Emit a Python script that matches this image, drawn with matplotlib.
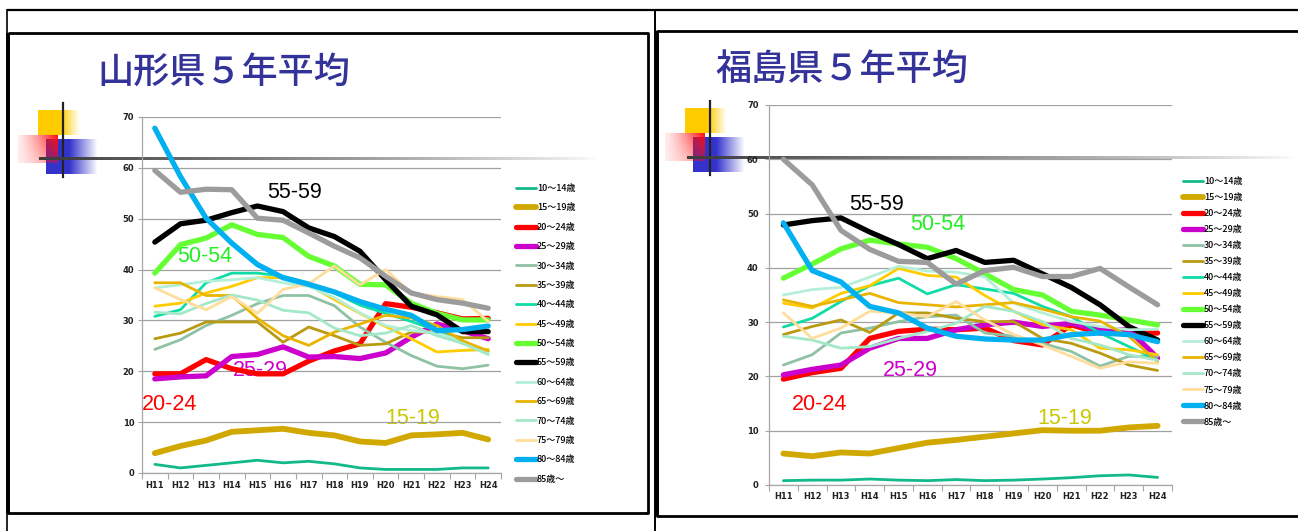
import numpy as np
import matplotlib
matplotlib.use("Agg")
import matplotlib.pyplot as plt

# ---------------- data ----------------
years = ['H11', 'H12', 'H13', 'H14', 'H15', 'H16', 'H17', 'H18', 'H19', 'H20', 'H21', 'H22', 'H23', 'H24']
age_labels = ['10～14歳', '15～19歳', '20～24歳', '25～29歳', '30～34歳', '35～39歳', '40～44歳', '45～49歳',
              '50～54歳', '55～59歳', '60～64歳', '65～69歳', '70～74歳', '75～79歳', '80～84歳', '85歳～']

# Yamagata
yama_10 = [1.7, 1.0, 1.5, 2.0, 2.5, 2.0, 2.3, 1.8, 1.0, 0.7, 0.7, 0.7, 1.0, 1.0]
yama_15 = [3.9, 5.3, 6.4, 8.1, 8.4, 8.7, 7.9, 7.4, 6.2, 5.9, 7.4, 7.6, 7.9, 6.6]
yama_20 = [19.5, 19.5, 22.3, 20.5, 19.5, 19.5, 22.0, 24.0, 25.4, 33.3, 32.6, 31.5, 30.3, 30.4]
yama_25 = [18.5, 18.9, 19.1, 22.9, 23.3, 24.8, 22.8, 22.9, 22.5, 23.6, 26.7, 29.3, 28.0, 26.4]
yama_30 = [24.3, 26.2, 29.0, 31.0, 33.3, 34.9, 34.9, 32.9, 28.7, 25.7, 23.1, 21.0, 20.5, 21.2]
yama_35 = [26.4, 27.5, 29.7, 29.7, 29.7, 25.7, 28.7, 27.0, 25.1, 25.4, 27.7, 27.7, 26.6, 26.6]
yama_40 = [30.8, 32.1, 37.4, 39.3, 39.3, 38.7, 37.4, 35.4, 33.0, 31.4, 29.8, 28.0, 25.5, 24.0]
yama_45 = [32.8, 33.4, 35.4, 36.7, 38.4, 38.4, 37.0, 34.1, 31.4, 28.8, 26.4, 23.8, 24.1, 24.3]
yama_50 = [39.3, 44.9, 46.2, 48.8, 46.9, 46.3, 42.6, 40.7, 37.1, 37.0, 33.4, 31.4, 30.1, 30.1]
yama_55 = [45.4, 49.0, 49.7, 51.2, 52.5, 51.4, 48.2, 46.5, 43.6, 38.0, 32.8, 31.1, 27.8, 27.8]
yama_60 = [36.4, 37.0, 37.7, 38.0, 38.4, 37.4, 36.7, 34.5, 31.5, 29.0, 28.0, 27.5, 26.0, 23.5]
yama_65 = [37.4, 37.4, 34.9, 34.9, 30.4, 27.0, 25.1, 27.7, 29.3, 31.0, 30.5, 29.0, 26.0, 24.0]
yama_70 = [31.6, 31.3, 33.3, 35.0, 34.0, 32.0, 31.5, 28.5, 27.0, 27.5, 29.0, 27.0, 25.5, 23.3]
yama_75 = [36.4, 34.1, 32.1, 34.7, 31.4, 36.1, 37.2, 40.7, 37.0, 40.0, 35.4, 34.7, 34.1, 29.8]
yama_80 = [67.8, 58.3, 50.1, 45.2, 41.0, 38.4, 37.1, 35.6, 33.7, 32.2, 31.0, 28.0, 28.2, 28.9]
yama_85 = [59.5, 55.2, 55.8, 55.7, 50.1, 49.7, 47.2, 44.6, 42.3, 38.7, 35.4, 34.1, 33.4, 32.4]

# Fukushima
fuku_10 = [0.8, 0.9, 0.9, 1.1, 0.9, 0.8, 1.0, 0.8, 0.9, 1.1, 1.35, 1.7, 1.85, 1.4]
fuku_15 = [5.8, 5.3, 6.0, 5.8, 6.8, 7.8, 8.3, 8.9, 9.5, 10.1, 10.0, 10.0, 10.6, 10.9]
fuku_20 = [19.5, 20.7, 21.5, 27.0, 28.3, 28.7, 28.6, 28.9, 26.6, 25.8, 29.5, 28.0, 28.0, 28.0]
fuku_25 = [20.3, 21.3, 22.1, 25.2, 27.0, 27.0, 28.6, 29.5, 30.0, 29.2, 29.8, 28.5, 28.6, 23.4]
fuku_30 = [22.1, 24.0, 28.0, 28.9, 30.1, 31.0, 31.3, 28.0, 27.4, 26.1, 24.6, 21.9, 23.7, 23.7]
fuku_35 = [27.7, 29.2, 30.4, 28.1, 31.7, 31.7, 30.7, 30.1, 30.1, 27.0, 26.1, 24.3, 22.1, 21.1]
fuku_40 = [29.1, 30.7, 33.8, 36.7, 38.1, 35.2, 36.9, 36.1, 35.3, 32.9, 31.0, 28.0, 25.5, 23.0]
fuku_45 = [33.5, 32.6, 35.3, 36.7, 39.9, 38.6, 38.3, 34.9, 32.0, 29.5, 28.6, 25.2, 24.9, 24.0]
fuku_50 = [38.1, 40.7, 43.5, 45.1, 44.4, 43.8, 41.7, 38.9, 36.0, 35.0, 32.0, 31.3, 30.4, 29.5]
fuku_55 = [47.9, 48.7, 49.2, 46.6, 44.3, 41.7, 43.2, 41.0, 41.4, 38.9, 36.4, 33.2, 29.2, 26.7]
fuku_60 = [35.0, 36.0, 36.4, 38.3, 40.3, 39.4, 39.2, 38.3, 33.5, 31.7, 30.1, 29.2, 28.6, 28.7]
fuku_65 = [34.1, 32.9, 34.1, 35.3, 33.6, 33.2, 32.8, 33.2, 33.6, 32.4, 31.0, 30.2, 27.4, 22.7]
fuku_70 = [27.4, 26.7, 25.2, 25.5, 27.0, 28.3, 29.8, 32.9, 32.0, 30.1, 27.0, 25.8, 24.0, 23.0]
fuku_75 = [31.7, 27.0, 28.9, 32.0, 31.7, 31.0, 33.8, 30.4, 27.7, 25.8, 23.7, 21.5, 22.7, 22.4]
fuku_80 = [48.3, 39.5, 37.4, 32.9, 31.7, 28.9, 27.4, 26.9, 26.7, 26.7, 27.7, 28.0, 27.7, 26.4]
fuku_85 = [60.0, 55.3, 46.9, 43.4, 41.2, 41.0, 37.0, 39.5, 40.1, 38.4, 38.4, 39.9, 36.5, 33.2]

yama_series = [yama_10, yama_15, yama_20, yama_25, yama_30, yama_35, yama_40, yama_45,
               yama_50, yama_55, yama_60, yama_65, yama_70, yama_75, yama_80, yama_85]
fuku_series = [fuku_10, fuku_15, fuku_20, fuku_25, fuku_30, fuku_35, fuku_40, fuku_45,
               fuku_50, fuku_55, fuku_60, fuku_65, fuku_70, fuku_75, fuku_80, fuku_85]

colors = ['#12b98a', '#d1a800', '#ff0000', '#cc00cc', '#8fc2a4', '#b99a10', '#10dca6', '#ffcc00',
          '#66ff33', '#000000', '#b5efd8', '#e8b400', '#a3e8c8', '#ffdd9c', '#00b0f0', '#9c9c9c']
widths = [2.0, 4.2, 3.8, 3.8, 2.0, 2.0, 2.0, 2.0, 3.8, 3.8, 2.0, 2.0, 2.0, 2.0, 3.8, 3.8]

# ---------------- figure ----------------
W, H = 1298, 531
fig = plt.figure(figsize=(W / 100, H / 100), dpi=100)
fig.patch.set_facecolor('white')
CJK = ['Noto Sans CJK JP', 'DejaVu Sans']

bg = fig.add_axes([0, 0, 1, 1], zorder=0)
bg.set_xlim(0, W)
bg.set_ylim(H, 0)
bg.axis('off')


def fade_img(rgb, n=64, solid=0.5):
    t = np.linspace(0, 1, n)
    a = np.where(t < solid, 1.0, 1.0 - (t - solid) / (1 - solid))
    img = np.zeros((1, n, 4))
    img[..., :3] = rgb
    img[0, :, 3] = a
    return img


def red_img(n=40):
    xs = np.linspace(0, 1, n)
    ys = np.linspace(0, 1, n)
    X, Y = np.meshgrid(xs, ys)
    img = np.zeros((n, n, 4))
    img[..., 0] = 1.0
    img[..., 1] = 0.05
    img[..., 2] = 0.05
    img[..., 3] = np.clip(0.08 + 0.92 * X ** 1.3 * (1 - 0.55 * Y), 0, 1)
    return img


def line_img(n=200):
    img = np.zeros((1, n, 4))
    img[..., :3] = 0.25
    img[0, :, 3] = np.linspace(1, 0, n) ** 0.8
    return img


def logo(x0, y0):
    # x0,y0: offsets of the decorative logo (pixel)
    bg.imshow(fade_img((1, 0.8, 0), solid=0.55), extent=(x0 + 20, x0 + 62, y0 + 32, y0 + 7), aspect='auto', zorder=1)
    bg.imshow(fade_img((0.2, 0.2, 0.8), solid=0.45), extent=(x0 + 28, x0 + 80, y0 + 71, y0 + 36), aspect='auto', zorder=1)
    bg.imshow(red_img(), extent=(x0, x0 + 40, y0 + 60, y0 + 32), aspect='auto', zorder=2)
    bg.plot([x0 + 45, x0 + 45], [y0, y0 + 74], color='#222222', lw=1.6, zorder=3)


logo(18, 103)
logo(665, 101)
bg.imshow(line_img(), extent=(39, 600, 160.5, 157.5), aspect='auto', zorder=3)
bg.imshow(line_img(), extent=(687, 1298, 159.5, 156.5), aspect='auto', zorder=3)

# frames
k = dict(color='black', solid_capstyle='butt', zorder=5)
bg.plot([7, W], [9.5, 9.5], lw=1.6, **k)
bg.plot([7, 7], [9, H], lw=1.2, **k)
bg.plot([655, 655], [9, H], lw=1.4, **k)
bg.plot([7.5, 648, 648, 7.5, 7.5], [33, 33, 513, 513, 33], lw=2.0, **k)
bg.plot([8, 8], [33, 513], lw=2.6, **k)
bg.plot([W, 657, 657, W], [31, 31, 516, 516], lw=2.0, **k)
bg.plot([657, 657], [31, 516], lw=2.6, **k)

bg.set_xlim(0, W)
bg.set_ylim(H, 0)

# titles
bg.text(224, 73, '山形県５年平均', ha='center', va='center', fontsize=26, color='#333399',
        family=CJK, fontweight='medium', zorder=6)
bg.text(842, 70, '福島県５年平均', ha='center', va='center', fontsize=26, color='#333399',
        family=CJK, fontweight='medium', zorder=6)


def make_chart(rect_px, series, legend_top, legend_x, spacing, xpad, ypad):
    l, t, r, b = rect_px
    ax = fig.add_axes([l / W, 1 - b / H, (r - l) / W, (b - t) / H], zorder=2)
    ax.set_facecolor('none')
    x = np.arange(len(years))
    for vals, c, lw, lab in zip(series, colors, widths, age_labels):
        ax.plot(x, vals, color=c, lw=lw, label=lab, solid_joinstyle='round', solid_capstyle='round')
    ax.set_xlim(-0.5, len(years) - 0.5)
    ax.set_ylim(0, 70)
    ax.set_yticks(range(0, 71, 10))
    ax.set_xticks(x)
    ax.set_xticklabels(years)
    ax.set_xticks(np.arange(-0.5, len(years), 1.0), minor=True)
    ax.tick_params(axis='x', which='major', length=0, pad=xpad, labelsize=6, colors='#222222')
    ax.tick_params(axis='x', which='minor', length=4, width=0.8, color='#a6a6a6')
    ax.tick_params(axis='y', length=3, width=0.8, color='#a6a6a6', pad=ypad, labelsize=6, labelcolor='#222222')
    for lab in ax.get_xticklabels() + ax.get_yticklabels():
        lab.set_fontweight('bold')
    ax.grid(axis='y', color='#a0a0a0', lw=0.9)
    ax.set_axisbelow(True)
    for s in ['top', 'right']:
        ax.spines[s].set_visible(False)
    for s in ['left', 'bottom']:
        ax.spines[s].set_color('#a6a6a6')
        ax.spines[s].set_linewidth(0.9)
    leg = ax.legend(loc='upper left', bbox_to_anchor=(legend_x / W, 1 - legend_top / H),
                    bbox_transform=fig.transFigure, frameon=False, borderpad=0, borderaxespad=0,
                    handlelength=2.2, handletextpad=0.1, labelspacing=spacing,
                    prop={'family': CJK, 'size': 6.5, 'weight': 'medium'})
    for txt in leg.get_texts():
        txt.set_color('black')
    return ax


axL = make_chart((142, 117, 501, 473), yama_series, 184, 516, 1.15, 6, 2.5)
axR = make_chart((769, 105, 1172, 485), fuku_series, 177, 1183, 0.78, 5, 4.5)

# annotations
ann = dict(ha='center', va='center', fontsize=15.5, family=['Liberation Sans', 'DejaVu Sans'], zorder=7)
bg.text(295, 193, '55-59', color='black', **ann)
bg.text(205, 257, '50-54', color='#22ee22', **ann)
bg.text(260, 371, '25-29', color='#cc00cc', **ann)
bg.text(170, 404, '20-24', color='#ff0000', **ann)
bg.text(413, 418, '15-19', color='#c8c800', **ann)

bg.text(877, 205, '55-59', color='black', **ann)
bg.text(938, 225, '50-54', color='#22ee22', **ann)
bg.text(910, 371, '25-29', color='#cc00cc', **ann)
bg.text(820, 404, '20-24', color='#ff0000', **ann)
bg.text(1065, 419, '15-19', color='#c8c800', **ann)

fig.savefig('out.png', dpi=100)
